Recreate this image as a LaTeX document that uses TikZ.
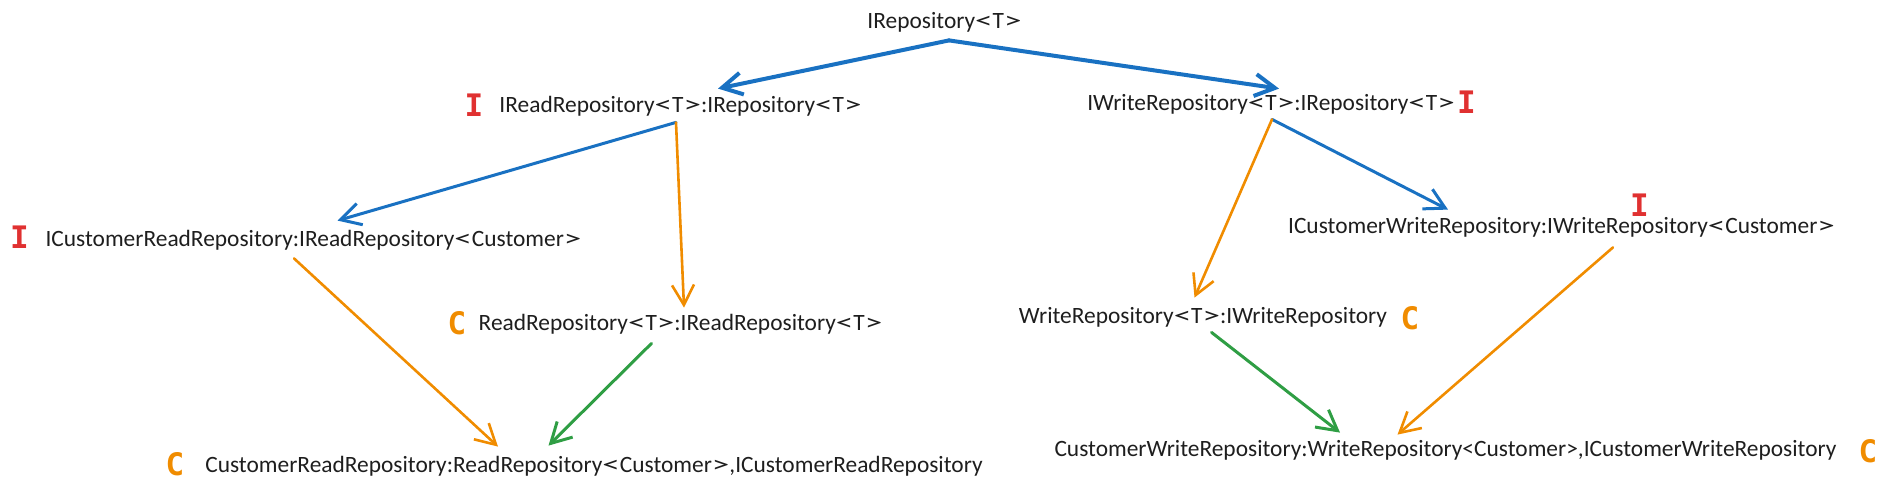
\documentclass[tikz,border=0pt]{standalone}
\usepackage{fontspec}
\setmainfont{Carlito}
\newfontfamily\markfont{DejaVu Sans Mono}[BoldFont={DejaVu Sans Mono Bold}]
\usetikzlibrary{arrows.meta}
\newlength{\du}
\setlength{\du}{0.5pt}
\newcommand{\targ}[1]{\scalebox{1.5}[1]{<}#1\scalebox{1.5}[1]{>}}
\definecolor{inkcolor}{rgb}{0.118, 0.118, 0.118}
\definecolor{ifacecolor}{rgb}{0.098, 0.443, 0.761}
\definecolor{classcolor}{rgb}{0.941, 0.549, 0.000}
\definecolor{implcolor}{rgb}{0.184, 0.620, 0.267}
\definecolor{markcolor}{rgb}{0.878, 0.192, 0.192}
\tikzset{
  typename/.style={inner sep=0pt, text height=16\du, text depth=6\du, text=inkcolor, font=\fontsize{11.7pt}{13pt}\selectfont},
  ifacemark/.style={inner sep=0pt, text=markcolor, font=\markfont\bfseries\fontsize{15.5pt}{17pt}\selectfont},
  classmark/.style={inner sep=0pt, text=classcolor, font=\markfont\bfseries\fontsize{15.5pt}{17pt}\selectfont},
  link/.style={-{Straight Barb[length=10pt,width=11pt]}, line cap=round},
  heavylink/.style={link, ifacecolor, line width=4\du},
  ifacelink/.style={link, ifacecolor, line width=3\du},
  classlink/.style={link, classcolor, line width=2.6\du},
  impllink/.style={link, implcolor, line width=3\du},
}
\begin{document}
\begin{tikzpicture}[x=1\du,y=-1\du]
\useasboundingbox (0,0) rectangle (1889,498);
% type names
\node[typename] (root) at (944.5,23) {IRepository\targ{T}};
\node[typename] (iread) at (680.5,107) {IReadRepository\targ{T}:IRepository\targ{T}};
\node[typename] (iwrite) at (1271,105) {IWriteRepository\targ{T}:IRepository\targ{T}};
\node[typename] (icread) at (313.5,241) {ICustomerReadRepository:IReadRepository\targ{Customer}};
\node[typename] (icwrite) at (1561.5,228) {ICustomerWriteRepository:IWriteRepository\targ{Customer}};
\node[typename] (read) at (680.5,325) {ReadRepository\targ{T}:IReadRepository\targ{T}};
\node[typename] (write) at (1203,318) {WriteRepository\targ{T}:IWriteRepository};
\node[typename] (cread) at (594,467) {CustomerReadRepository:ReadRepository\targ{Customer},ICustomerReadRepository};
\node[typename] (cwrite) at (1445.5,451) {CustomerWriteRepository:WriteRepository<Customer>,ICustomerWriteRepository};
% marks
\node[ifacemark] (ireadmark) at (474,105) {I};
\node[ifacemark] (iwritemark) at (1466.5,102) {I};
\node[ifacemark] (icreadmark) at (19.5,237) {I};
\node[ifacemark] (icwritemark) at (1639.5,205) {I};
\node[classmark] (readmark) at (457,323.5) {C};
\node[classmark] (writemark) at (1410,318.5) {C};
\node[classmark] (creadmark) at (175,464.5) {C};
\node[classmark] (cwritemark) at (1868,451) {C};
% connectors
\draw[heavylink] ([xshift=4.5\du,yshift=-6\du]root.south) -- ([xshift=37.5\du,yshift=7\du]iread.north);
\draw[heavylink] ([xshift=4.5\du,yshift=-6\du]root.south) -- ([xshift=8\du,yshift=5\du]iwrite.north);
\draw[ifacelink] ([xshift=-4.5\du,yshift=-4\du]iread.south) -- ([xshift=24\du,yshift=9\du]icread.north);
\draw[classlink] ([xshift=-4.5\du,yshift=-4\du]iread.south) -- ([xshift=3.5\du,yshift=6\du]read.north);
\draw[ifacelink] ([xshift=1\du,yshift=-3\du]iwrite.south) -- ([xshift=-113.5\du,yshift=7\du]icwrite.north);
\draw[classlink] ([xshift=1\du,yshift=-3\du]iwrite.south) -- ([xshift=-8.5\du,yshift=9\du]write.north);
\draw[classlink] ([xshift=-19.5\du,yshift=-6\du]icread.south) -- ([xshift=-96\du,yshift=9\du]cread.north);
\draw[impllink] ([xshift=-29\du,yshift=-7\du]read.south) -- ([xshift=-45.5\du,yshift=10\du]cread.north);
\draw[impllink] ([xshift=8.5\du,yshift=-3\du]write.south) -- ([xshift=-105.5\du,yshift=7\du]cwrite.north);
\draw[classlink] ([xshift=51.5\du,yshift=-8\du]icwrite.south) -- ([xshift=-48\du,yshift=5\du]cwrite.north);
\end{tikzpicture}
\end{document}
